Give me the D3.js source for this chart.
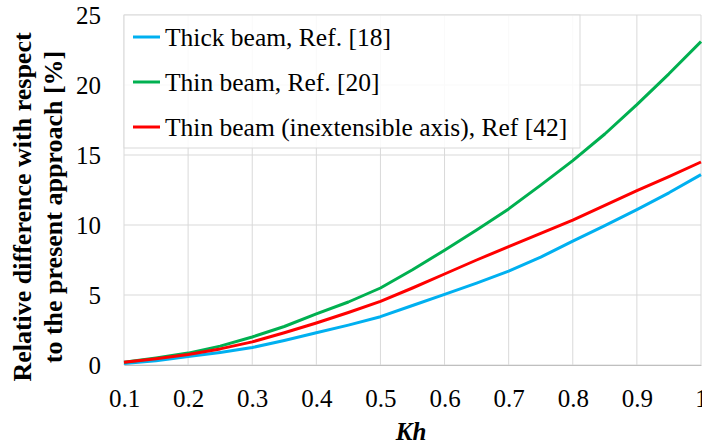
<!DOCTYPE html>
<html>
<head>
<meta charset="utf-8">
<script src="https://cdn.jsdelivr.net/npm/d3@7"></script>
<style>
  body { margin: 0; background: #fff; }
  svg { display: block; }
</style>
</head>
<body>
<div id="chart"><svg></svg></div>
<script>
// Kh values (x), every 0.05
const kh = [0.1, 0.15, 0.2, 0.25, 0.3, 0.35, 0.4, 0.45, 0.5, 0.55,
            0.6, 0.65, 0.7, 0.75, 0.8, 0.85, 0.9, 0.95, 1.0];

const thickBeam = [0.1, 0.3, 0.6, 0.9, 1.25, 1.75, 2.3, 2.85, 3.45, 4.25,
                   5.05, 5.85, 6.7, 7.7, 8.85, 9.95, 11.1, 12.3, 13.6];
const thinBeam = [0.2, 0.5, 0.85, 1.35, 2.0, 2.75, 3.65, 4.5, 5.5, 6.8,
                  8.2, 9.65, 11.15, 12.85, 14.6, 16.5, 18.6, 20.8, 23.1];
const thinInext = [0.2, 0.45, 0.75, 1.15, 1.65, 2.3, 3.0, 3.75, 4.55, 5.5,
                   6.5, 7.5, 8.45, 9.4, 10.35, 11.4, 12.45, 13.45, 14.5];

const xTicks = [0.1, 0.2, 0.3, 0.4, 0.5, 0.6, 0.7, 0.8, 0.9, 1];
const yTicks = [0, 5, 10, 15, 20, 25];

const seriesNames = ["Thick beam, Ref. [18]", "Thin beam, Ref. [20]",
                     "Thin beam (inextensible axis), Ref [42]"];
const seriesColors = ["#00b0f0", "#00b050", "#ff0000"];

const W = 702, H = 447;
const margin = { top: 15, right: 1, bottom: 82, left: 124 };
const width = W - margin.left - margin.right;
const height = H - margin.top - margin.bottom;
const serif = "Liberation Serif";

const svg = d3.select("#chart > svg")
  .attr("width", W)
  .attr("height", H);

const g = svg.append("g")
  .attr("transform", `translate(${margin.left},${margin.top})`);

const x = d3.scaleLinear().domain([0.1, 1]).range([0, width]);
const y = d3.scaleLinear().domain([0, 25]).range([height, 0]);

// grid
g.append("g")
  .selectAll("line")
  .data(yTicks)
  .join("line")
  .attr("x1", 0).attr("x2", width)
  .attr("y1", d => y(d)).attr("y2", d => y(d))
  .attr("stroke", "#d9d9d9").attr("stroke-width", 1);

g.append("g")
  .selectAll("line")
  .data(xTicks)
  .join("line")
  .attr("y1", 0).attr("y2", height)
  .attr("x1", d => x(d)).attr("x2", d => x(d))
  .attr("stroke", "#d9d9d9").attr("stroke-width", 1);

// axes (labels only, grid gives the lines)
const xAxis = g.append("g")
  .attr("transform", `translate(0,${height})`)
  .call(d3.axisBottom(x).tickValues(xTicks).tickSize(0).tickPadding(24)
    .tickFormat(d => d === 1 ? "1" : d3.format(".1f")(d)));
xAxis.select(".domain").attr("stroke", "#bfbfbf");

const yAxis = g.append("g")
  .call(d3.axisLeft(y).tickValues(yTicks).tickSize(0).tickPadding(23));
yAxis.select(".domain").remove();

svg.selectAll(".tick text")
  .attr("font-family", serif)
  .style("font-family", serif)
  .style("font-size", "25px")
  .attr("fill", "#000");

// series
const all = [thickBeam, thinBeam, thinInext];
const line = d3.line()
  .x((d, i) => x(kh[i]))
  .y(d => y(d));

all.forEach((vals, i) => {
  g.append("path")
    .datum(vals)
    .attr("fill", "none")
    .attr("stroke", seriesColors[i])
    .attr("stroke-width", 3)
    .attr("stroke-linejoin", "round")
    .attr("d", line);
});

// legend
const legend = g.append("g");
legend.append("rect")
  .attr("x", 0).attr("y", 0)
  .attr("width", 456).attr("height", 133)
  .attr("fill", "#fff").attr("fill-opacity", 0.85)
  .attr("stroke", "#d9d9d9");

seriesNames.forEach((name, i) => {
  const ly = 22 + i * 45;
  legend.append("line")
    .attr("x1", 9).attr("x2", 36)
    .attr("y1", ly).attr("y2", ly)
    .attr("stroke", seriesColors[i]).attr("stroke-width", 3);
  legend.append("text")
    .attr("x", 41).attr("y", ly + 9)
    .attr("font-family", serif)
    .style("font-size", "25.5px")
    .text(name);
});

// axis titles
svg.append("text")
  .attr("x", 411).attr("y", 440)
  .attr("text-anchor", "middle")
  .attr("font-family", serif)
  .style("font-size", "25px")
  .style("font-weight", "bold")
  .style("font-style", "italic")
  .text("Kh");

const yTitle = svg.append("text")
  .attr("transform", "translate(0,207) rotate(-90)")
  .attr("text-anchor", "middle")
  .attr("font-family", serif)
  .style("font-size", "26px")
  .style("font-weight", "bold");
yTitle.append("tspan").attr("x", 0).attr("y", 31).text("Relative difference with respect");
yTitle.append("tspan").attr("x", 0).attr("y", 62).text("to the present approach [%]");
</script>
</body>
</html>
